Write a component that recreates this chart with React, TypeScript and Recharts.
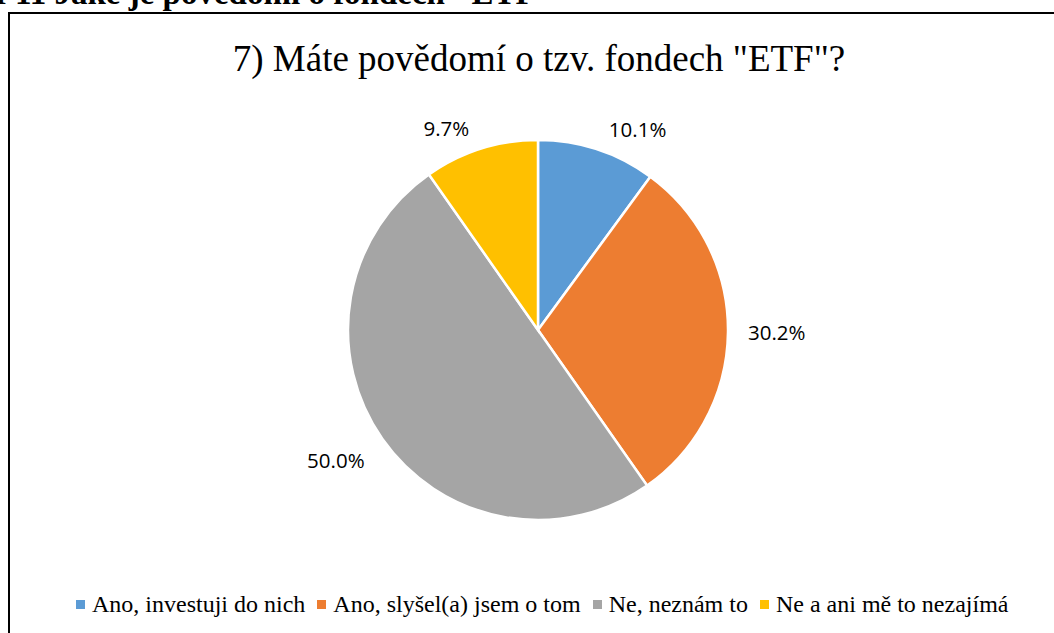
import { Cell, Pie, PieChart } from "recharts";

const categories = [
  "Ano, investuji do nich",
  "Ano, slyšel(a) jsem o tom",
  "Ne, neznám to",
  "Ne a ani mě to nezajímá",
];
const counts = [30, 90, 149, 29];
const colors = ["#5B9BD5", "#ED7D31", "#A5A5A5", "#FFC000"];

const total = counts.reduce((a, b) => a + b, 0);
const data = categories.map((name, i) => ({ name, value: counts[i] }));

const RAD = Math.PI / 180;
const serif = "'Liberation Serif', 'Times New Roman', serif";

// label sits just outside the slice, pushed sideways like Excel's best fit
function renderLabel(props: any) {
  const { cx, cy, midAngle, outerRadius, value } = props;
  const c = Math.cos(-midAngle * RAD);
  const s = Math.sin(-midAngle * RAD);
  const r = outerRadius + 12;
  const x = cx + r * c + (c >= 0 ? 8 : -8);
  const y = cy + r * s + (s > 0 ? 25 : 10) * s;
  return (
    <text
      x={x}
      y={y}
      textAnchor={c >= 0 ? "start" : "end"}
      dominantBaseline="central"
      fill="#000"
      fontFamily="'Open Sans', sans-serif"
      fontSize={20.5}
    >
      {((value / total) * 100).toFixed(1)}%
    </text>
  );
}

export default function App() {
  return (
    <div
      style={{
        position: "absolute",
        left: 0,
        top: 0,
        width: 1054,
        height: 633,
        overflow: "hidden",
        background: "#fff",
        fontFamily: serif,
      }}
    >
      <div
        style={{
          position: "absolute",
          left: -61,
          top: -25,
          fontSize: 33,
          fontWeight: "bold",
          whiteSpace: "nowrap",
        }}
      >
        Graf 11 Jaké je povědomí o fondech "ETF"
      </div>
      <div
        style={{
          position: "absolute",
          left: 8,
          top: 12,
          width: 1080,
          height: 660,
          border: "2px solid #000",
          boxSizing: "border-box",
          background: "#fff",
        }}
      />
      <div
        style={{
          position: "absolute",
          left: 0,
          top: 37,
          width: 1078,
          textAlign: "center",
          fontSize: 37,
          whiteSpace: "nowrap",
        }}
      >
        7) Máte povědomí o tzv. fondech "ETF"?
      </div>
      <div style={{ position: "absolute", left: 0, top: 0 }}>
        <PieChart width={1054} height={633} margin={{ top: 0, right: 0, bottom: 0, left: 0 }}>
          <Pie
            data={data}
            dataKey="value"
            nameKey="name"
            cx={538}
            cy={330}
            outerRadius={190}
            startAngle={90}
            endAngle={-270}
            stroke="#fff"
            strokeWidth={2.5}
            label={renderLabel}
            labelLine={false}
            isAnimationActive={false}
          >
            {data.map((d, i) => (
              <Cell key={d.name} fill={colors[i]} />
            ))}
          </Pie>
        </PieChart>
      </div>
      <div
        style={{
          position: "absolute",
          left: 76,
          top: 591,
          display: "flex",
          fontSize: 24,
          color: "#000",
          whiteSpace: "nowrap",
        }}
      >
        {categories.map((name, i) => (
          <span
            key={name}
            style={{
              display: "flex",
              alignItems: "center",
              marginRight: 12,
            }}
          >
            <span
              style={{
                width: 9,
                height: 9,
                background: colors[i],
                display: "inline-block",
                marginRight: 7,
              }}
            />
            <span>{name}</span>
          </span>
        ))}
      </div>
    </div>
  );
}
